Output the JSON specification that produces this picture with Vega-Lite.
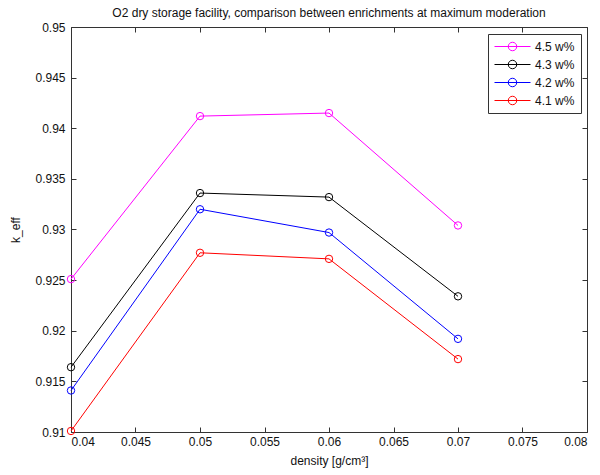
{
  "$schema": "https://vega.github.io/schema/vega-lite/v6.json",
  "width": 516,
  "height": 405,
  "autosize": {"type": "none"},
  "padding": {"left": 71, "top": 27, "right": 13, "bottom": 43},
  "background": "white",
  "config": {
    "font": "Liberation Sans",
    "view": {"stroke": null},
    "axis": {
      "domainColor": "#333",
      "tickColor": "#333",
      "labelColor": "#111",
      "labelFontSize": 12,
      "titleFontSize": 12,
      "titleFontWeight": "normal",
      "titleColor": "#111",
      "grid": false,
      "tickSize": -5,
      "labelFont": "Liberation Sans",
      "titleFont": "Liberation Sans"
    }
  },
  "title": {
    "text": "O2 dry storage facility, comparison between enrichments at maximum moderation",
    "fontSize": 12,
    "fontWeight": "normal",
    "color": "#111",
    "font": "Liberation Sans",
    "offset": 1
  },
  "data": {
    "values": [
      {"enrichment": "4.5 w%", "density": 0.04, "keff": 0.9251},
      {"enrichment": "4.5 w%", "density": 0.05, "keff": 0.9412},
      {"enrichment": "4.5 w%", "density": 0.06, "keff": 0.9415},
      {"enrichment": "4.5 w%", "density": 0.07, "keff": 0.9304},
      {"enrichment": "4.3 w%", "density": 0.04, "keff": 0.9164},
      {"enrichment": "4.3 w%", "density": 0.05, "keff": 0.9336},
      {"enrichment": "4.3 w%", "density": 0.06, "keff": 0.9332},
      {"enrichment": "4.3 w%", "density": 0.07, "keff": 0.9234},
      {"enrichment": "4.2 w%", "density": 0.04, "keff": 0.9141},
      {"enrichment": "4.2 w%", "density": 0.05, "keff": 0.932},
      {"enrichment": "4.2 w%", "density": 0.06, "keff": 0.9297},
      {"enrichment": "4.2 w%", "density": 0.07, "keff": 0.9192},
      {"enrichment": "4.1 w%", "density": 0.04, "keff": 0.9101},
      {"enrichment": "4.1 w%", "density": 0.05, "keff": 0.9277},
      {"enrichment": "4.1 w%", "density": 0.06, "keff": 0.9271},
      {"enrichment": "4.1 w%", "density": 0.07, "keff": 0.9172}
    ]
  },
  "layer": [
    {
      "mark": {
        "type": "line",
        "strokeWidth": 1,
        "point": {"filled": false, "size": 55, "strokeWidth": 1}
      },
      "encoding": {
        "x": {
          "field": "density",
          "type": "quantitative",
          "scale": {"domain": [0.04, 0.08], "nice": false, "zero": false},
          "axis": {
            "values": [0.04, 0.045, 0.05, 0.055, 0.06, 0.065, 0.07, 0.075, 0.08],
            "format": ".3~f",
            "title": "density [g/cm³]",
            "labelPadding": 9,
            "titlePadding": 8
          }
        },
        "y": {
          "field": "keff",
          "type": "quantitative",
          "scale": {"domain": [0.91, 0.95], "nice": false, "zero": false},
          "axis": {
            "values": [0.91, 0.915, 0.92, 0.925, 0.93, 0.935, 0.94, 0.945, 0.95],
            "format": ".3~f",
            "title": "k_eff",
            "labelPadding": 11,
            "titlePadding": 12
          }
        },
        "color": {
          "field": "enrichment",
          "type": "nominal",
          "scale": {
            "domain": ["4.5 w%", "4.3 w%", "4.2 w%", "4.1 w%"],
            "range": ["#ff00ff", "#000000", "#0000ff", "#ff0000"]
          },
          "legend": {
            "title": null,
            "orient": "none",
            "legendX": 417,
            "legendY": 7,
            "padding": 6,
            "strokeColor": "#333",
            "fillColor": "white",
            "symbolType": "M-1,0H5M2.708,0A0.708,0.708,0,1,1,1.292,0A0.708,0.708,0,1,1,2.708,0",
            "symbolSize": 144,
            "symbolStrokeWidth": 1,
            "symbolFillColor": "transparent",
            "labelOffset": 28,
            "labelFontSize": 12,
            "labelColor": "#111",
            "labelFont": "Liberation Sans",
            "rowPadding": 5
          }
        }
      }
    },
    {
      "mark": {"type": "point", "opacity": 0},
      "encoding": {
        "x": {
          "field": "density",
          "type": "quantitative",
          "axis": {
            "orient": "top",
            "values": [0.04, 0.045, 0.05, 0.055, 0.06, 0.065, 0.07, 0.075, 0.08],
            "labels": false,
            "title": null
          }
        },
        "y": {
          "field": "keff",
          "type": "quantitative",
          "axis": {
            "orient": "right",
            "values": [0.91, 0.915, 0.92, 0.925, 0.93, 0.935, 0.94, 0.945, 0.95],
            "labels": false,
            "title": null
          }
        }
      }
    }
  ],
  "resolve": {"axis": {"x": "independent", "y": "independent"}}
}
